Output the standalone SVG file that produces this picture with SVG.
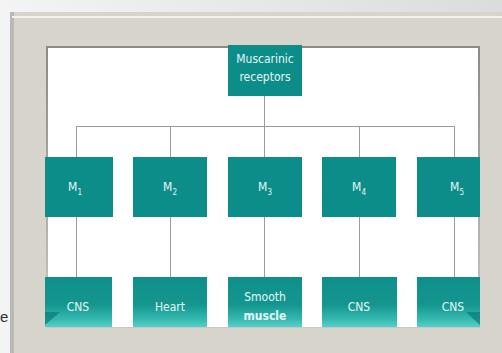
<svg xmlns="http://www.w3.org/2000/svg" width="502" height="353" viewBox="0 0 502 353">
  <defs>
    <linearGradient id="pageBg" x1="0" y1="0" x2="1" y2="0">
      <stop offset="0" stop-color="#f4f4f4"/>
      <stop offset="1" stop-color="#dcdcdc"/>
    </linearGradient>
    <linearGradient id="tileFill" x1="0" y1="0" x2="0" y2="1">
      <stop offset="0" stop-color="#0f8f8b"/>
      <stop offset="0.55" stop-color="#14968f"/>
      <stop offset="0.85" stop-color="#35b9b1"/>
      <stop offset="1" stop-color="#56d0c8"/>
    </linearGradient>
    <linearGradient id="innerShade" x1="0" y1="0" x2="0" y2="1">
      <stop offset="0" stop-color="#8a8a86"/>
      <stop offset="1" stop-color="#c9c7c0"/>
    </linearGradient>
    <style>
      .box { fill: #0d8d89; }
      .tile { fill: url(#tileFill); }
      .bevel { fill: #0b7d79; opacity: 0.75; }
      .lbl { font-family: "DejaVu Sans Condensed", "Liberation Sans Narrow", "Liberation Sans", sans-serif; font-size: 12px; fill: #e6f6f4; text-anchor: middle; }
      .sub { font-size: 8px; }
      .wire { stroke: #9a9a9a; stroke-width: 1; fill: none; }
    </style>
  </defs>

  <!-- page background and frame -->
  <rect x="0" y="0" width="502" height="353" fill="url(#pageBg)"/>
  <rect x="12" y="12" width="495" height="345" fill="#d7d4cc"/>
  <rect x="10" y="12" width="4" height="345" fill="#b9b8b2"/>
  <rect x="12" y="16" width="495" height="2" fill="#f2f1ec"/>
  <rect x="46" y="46" width="434" height="282" fill="url(#innerShade)"/>
  <rect x="48" y="48" width="430" height="279" fill="#ffffff"/>
  <text x="0" y="322" font-family="Liberation Sans, sans-serif" font-size="15" fill="#333333">e</text>

  <!-- connectors -->
  <g id="connectors" class="wire">
    <line x1="264.5" y1="96" x2="264.5" y2="126.5"/>
    <line x1="76.5" y1="126.5" x2="454.5" y2="126.5"/>
    <line x1="76.5" y1="126" x2="76.5" y2="157"/>
    <line x1="170.5" y1="126" x2="170.5" y2="157"/>
    <line x1="264.5" y1="126" x2="264.5" y2="157"/>
    <line x1="359.5" y1="126" x2="359.5" y2="157"/>
    <line x1="454.5" y1="126" x2="454.5" y2="157"/>
    <line x1="76.5" y1="217" x2="76.5" y2="277"/>
    <line x1="170.5" y1="217" x2="170.5" y2="277"/>
    <line x1="264.5" y1="217" x2="264.5" y2="277"/>
    <line x1="359.5" y1="217" x2="359.5" y2="277"/>
    <line x1="454.5" y1="217" x2="454.5" y2="277"/>
  </g>

  <!-- root node -->
  <g id="muscarinic">
    <rect class="box" x="228" y="45" width="74" height="51"/>
    <text class="lbl" x="265" y="63">Muscarinic</text>
    <text class="lbl" x="265" y="81">receptors</text>
  </g>

  <!-- receptor subtypes -->
  <g id="m1">
    <rect class="box" x="45" y="157" width="68" height="60"/>
    <text class="lbl" x="75" y="191">M<tspan class="sub" dy="4">1</tspan></text>
  </g>
  <g id="m2">
    <rect class="box" x="133" y="157" width="74" height="60"/>
    <text class="lbl" x="170" y="191">M<tspan class="sub" dy="4">2</tspan></text>
  </g>
  <g id="m3">
    <rect class="box" x="228" y="157" width="74" height="60"/>
    <text class="lbl" x="265" y="191">M<tspan class="sub" dy="4">3</tspan></text>
  </g>
  <g id="m4">
    <rect class="box" x="322" y="157" width="74" height="60"/>
    <text class="lbl" x="359" y="191">M<tspan class="sub" dy="4">4</tspan></text>
  </g>
  <g id="m5">
    <rect class="box" x="417" y="157" width="63" height="60"/>
    <text class="lbl" x="457" y="191">M<tspan class="sub" dy="4">5</tspan></text>
  </g>

  <!-- locations -->
  <g id="loc-cns-1">
    <rect class="tile" x="45" y="277" width="67" height="50"/>
    <polygon class="bevel" points="45,312 60,312 45,325"/>
    <text class="lbl" x="78" y="311">CNS</text>
  </g>
  <g id="loc-heart">
    <rect class="tile" x="133" y="277" width="74" height="50"/>
    <text class="lbl" x="170" y="311">Heart</text>
  </g>
  <g id="loc-smooth-muscle">
    <rect class="tile" x="228" y="277" width="74" height="50"/>
    <text class="lbl" x="265" y="301">Smooth</text>
    <text class="lbl" x="265" y="320" font-weight="bold">muscle</text>
  </g>
  <g id="loc-cns-4">
    <rect class="tile" x="322" y="277" width="75" height="50"/>
    <text class="lbl" x="359" y="311">CNS</text>
  </g>
  <g id="loc-cns-5">
    <rect class="tile" x="417" y="277" width="63" height="50"/>
    <polygon class="bevel" points="480,312 466,312 480,325"/>
    <text class="lbl" x="453" y="311">CNS</text>
  </g>
</svg>
